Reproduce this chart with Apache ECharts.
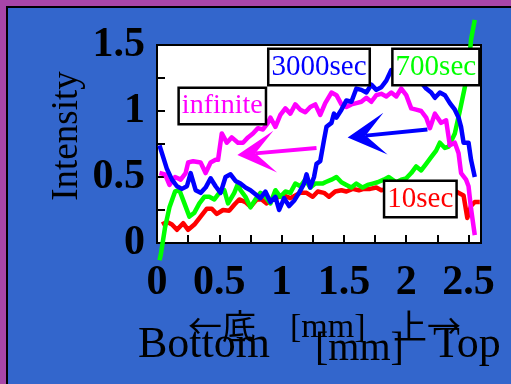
<!DOCTYPE html>
<html>
<head>
<meta charset="utf-8">
<script src="https://cdn.jsdelivr.net/npm/echarts@6/dist/echarts.min.js"></script>
<style>
  html, body { margin: 0; padding: 0; }
  body { width: 511px; height: 384px; background: #a846a8; position: relative; overflow: hidden; }
  #panel { position: absolute; left: 6px; top: 6px; width: 511px; height: 384px;
           background: #3366cc; border-left: 2px solid #000; border-top: 2px solid #000; }
  #chart { position: absolute; left: 0; top: 0; width: 511px; height: 384px; }
</style>
</head>
<body>
<div id="panel"></div>
<div id="chart"></div>
<script>
// Intensity profiles along the sample height (mm) at several times.
const xTickLabels = ['0', '0.5', '1', '1.5', '2', '2.5'];
const yTickLabels = ['0', '0.5', '1', '1.5'];

// 10 sec
const redX = [0.04,0.08,0.12,0.16,0.21,0.25,0.30,0.35,0.40,0.44,0.48,0.53,0.58,0.62,0.66,0.71,0.75,0.80,0.84,0.88,
  0.93,0.98,1.02,1.07,1.11,1.15,1.20,1.25,1.29,1.34,1.38,1.43,1.48,1.52,1.57,1.62,1.66,1.71,1.76,1.80,
  1.85,1.92,2.00,2.08,2.16,2.24,2.32,2.40,2.46,2.49,2.52,2.55,2.59];
const redY = [0.14,0.16,0.14,0.10,0.15,0.10,0.14,0.20,0.26,0.26,0.22,0.25,0.245,0.29,0.33,0.31,0.275,0.33,0.33,0.30,
  0.33,0.35,0.36,0.34,0.36,0.38,0.38,0.35,0.39,0.38,0.35,0.39,0.40,0.39,0.41,0.40,0.41,0.41,0.42,0.40,
  0.41,0.42,0.41,0.42,0.41,0.42,0.41,0.39,0.36,0.19,0.28,0.31,0.31];

// 700 sec
const greenX = [0.02,0.03,0.065,0.10,0.145,0.18,0.22,0.26,0.30,0.34,0.38,0.42,0.46,0.50,0.54,0.57,0.62,0.65,0.67,0.71,
  0.75,0.79,0.83,0.87,0.91,0.95,0.99,1.03,1.07,1.11,1.15,1.19,1.23,1.27,1.33,1.35,1.40,1.44,1.48,1.52,
  1.56,1.60,1.65,1.69,1.73,1.77,1.82,1.86,1.92,1.96,2.00,2.04,2.08,2.12,2.16,2.20,2.24,2.27,2.31,2.34,
  2.36,2.39,2.43,2.47,2.50,2.52,2.55];
const greenY = [-0.13,-0.09,0.12,0.27,0.39,0.40,0.30,0.20,0.23,0.30,0.35,0.35,0.33,0.38,0.40,0.30,0.38,0.45,0.40,0.35,
  0.27,0.33,0.38,0.35,0.30,0.40,0.35,0.39,0.38,0.45,0.43,0.48,0.42,0.45,0.45,0.46,0.48,0.50,0.46,0.44,
  0.42,0.45,0.42,0.44,0.45,0.46,0.48,0.50,0.46,0.48,0.49,0.53,0.58,0.55,0.60,0.65,0.70,0.76,0.72,0.73,
  0.77,0.83,1.00,1.18,1.33,1.54,1.69];

// 3000 sec
const blueX = [0.02,0.08,0.12,0.16,0.20,0.24,0.27,0.31,0.35,0.39,0.43,0.47,0.51,0.55,0.59,0.63,0.67,0.71,0.75,0.79,
  0.83,0.87,0.91,0.95,0.98,1.02,1.06,1.10,1.14,1.18,1.20,1.23,1.26,1.28,1.31,1.34,1.36,1.40,1.42,1.44,
  1.48,1.52,1.56,1.60,1.64,1.68,1.72,1.76,1.80,1.84,1.88,1.96,2.04,2.10,2.16,2.20,2.23,2.27,2.31,2.35,
  2.39,2.42,2.44,2.46,2.50,2.52,2.55];
const blueY = [0.74,0.56,0.48,0.43,0.41,0.43,0.53,0.40,0.38,0.42,0.49,0.43,0.38,0.50,0.52,0.47,0.45,0.42,0.40,0.37,
  0.34,0.39,0.31,0.35,0.25,0.34,0.28,0.32,0.38,0.45,0.52,0.42,0.50,0.60,0.62,0.78,0.88,0.91,0.98,0.95,
  1.01,1.08,1.07,1.17,1.16,1.14,1.20,1.16,1.18,1.23,1.31,1.30,1.28,1.24,1.17,1.14,1.10,1.14,1.12,1.06,
  1.01,0.95,0.88,0.76,0.76,0.63,0.50];

// infinite
const magentaX = [0.02,0.065,0.10,0.145,0.19,0.23,0.25,0.29,0.35,0.39,0.43,0.47,0.49,0.52,0.56,0.60,0.65,0.69,0.73,0.77,
  0.81,0.85,0.89,0.91,0.95,0.99,1.03,1.07,1.11,1.15,1.19,1.23,1.27,1.31,1.35,1.40,1.44,1.48,1.52,1.56,
  1.60,1.64,1.68,1.72,1.76,1.80,1.84,1.88,1.92,1.96,2.00,2.04,2.08,2.12,2.16,2.19,2.23,2.28,2.32,2.35,
  2.39,2.42,2.44,2.48,2.50,2.52,2.55];
const magentaY = [0.53,0.52,0.44,0.50,0.48,0.53,0.61,0.62,0.61,0.53,0.61,0.63,0.63,0.83,0.76,0.80,0.76,0.76,0.80,0.83,
  0.87,0.86,0.91,0.95,0.88,0.97,1.02,0.98,1.05,1.01,0.99,1.03,1.05,0.97,1.06,1.14,1.12,1.05,1.03,1.05,
  1.06,1.07,1.10,1.07,1.12,1.13,1.11,1.14,1.11,1.17,1.12,1.02,1.01,1.00,0.95,0.87,0.98,0.91,0.93,0.74,
  0.76,0.68,0.53,0.48,0.43,0.26,0.06];

// Boxed series captions (data coordinates of the box centre)
const captions = [
  { text: 'infinite', at: [0.524, 1.038], color: '#ff00ff', size: 28 },
  { text: '3000sec', at: [1.30, 1.333], color: '#0000ff', size: 29 },
  { text: '700sec', at: [2.238, 1.333], color: '#00ff00', size: 29 },
  { text: '10sec', at: [2.113, 0.333], color: '#ff0000', size: 29 }
];

// Shift arrows (tail -> head, data coordinates)
const arrows = [
  { from: [1.28, 0.72], to: [0.645, 0.667], color: '#ff00ff' },
  { from: [2.17, 0.86], to: [1.53, 0.80], color: '#0000ff' }
];

const zip = (xs, ys) => xs.map((x, i) => [x, ys[i]]);
const SERIF = '"Liberation Serif", "Times New Roman", serif';
const CJK = '"Noto Sans CJK JP", sans-serif';

function tickText(list, v) {
  const i = Math.round(v / 0.5);
  if (Math.abs(v - i * 0.5) < 1e-6 && i >= 0 && i < list.length) return list[i];
  return '';
}

const chart = echarts.init(document.getElementById('chart'), null, { renderer: 'canvas' });

const labelStyle = { fontFamily: SERIF, fontWeight: 'bold', fontSize: 42, color: '#000',
  textShadowColor: '#000', textShadowOffsetX: 1.5, textShadowOffsetY: 1, textShadowBlur: 0 };

function line(name, data, color, z) {
  return {
    name, type: 'line', data, symbol: 'none', clip: false, z,
    lineStyle: { color, width: 4.5, join: 'round' }
  };
}

chart.setOption({
  backgroundColor: 'transparent',
  animation: false,
  grid: { left: 157, top: 45, right: 30, bottom: 141, show: true,
          backgroundColor: '#fff', borderColor: '#000', borderWidth: 2 },
  xAxis: {
    type: 'value', min: 0, max: 2.6, interval: 0.25,
    axisLine: { show: true, onZero: false, lineStyle: { color: '#000', width: 2 } },
    axisTick: { show: true, inside: true, length: 8, lineStyle: { color: '#000', width: 2 } },
    splitLine: { show: false },
    axisLabel: Object.assign({ margin: 19, showMaxLabel: false,
      formatter: v => tickText(xTickLabels, v) }, labelStyle)
  },
  yAxis: {
    type: 'value', min: 0, max: 1.5, interval: 0.25,
    axisLine: { show: true, onZero: false, lineStyle: { color: '#000', width: 2 } },
    axisTick: { show: true, inside: true, length: 8, lineStyle: { color: '#000', width: 2 } },
    splitLine: { show: false },
    axisLabel: Object.assign({ margin: 12,
      formatter: v => tickText(yTickLabels, v) }, labelStyle)
  },
  series: [
    line('10sec', zip(redX, redY), '#ff0000', 2),
    line('700sec', zip(greenX, greenY), '#00ff00', 3),
    line('infinite', zip(magentaX, magentaY), '#ff00ff', 4),
    line('3000sec', zip(blueX, blueY), '#0000ff', 5)
  ]
});

const toPx = p => chart.convertToPixel({ gridIndex: 0 }, p);

const graphics = [];
function title(text, x, y, size, family, rotation) {
  graphics.push({ type: 'text', x, y, rotation: rotation || 0, z: 20,
    style: { text, fontSize: size, fontFamily: family, fill: '#000',
      align: rotation ? 'center' : 'left', verticalAlign: 'middle' } });
}

// axis titles
title('Intensity', 67, 136, 37, SERIF, Math.PI / 2);
title('Bottom', 138, 345, 44, SERIF);
title('[mm]', 315, 349, 40, SERIF);
title('Top', 433, 345, 44, SERIF);
title('←底', 188, 326, 34, CJK);
title('[mm]', 290, 328, 34, SERIF);
title('上→', 393, 326, 34, CJK);

// arrows
arrows.forEach(a => {
  const p1 = toPx(a.from), p2 = toPx(a.to);
  const dx = p2[0] - p1[0], dy = p2[1] - p1[1];
  const len = Math.hypot(dx, dy), ux = dx / len, uy = dy / len;
  const nx = -uy, ny = ux;
  const L = 38, W = 21, N = 18;
  const notch = [p2[0] - ux * N, p2[1] - uy * N];
  graphics.push({ type: 'line', z: 30,
    shape: { x1: p1[0], y1: p1[1], x2: notch[0], y2: notch[1] },
    style: { stroke: a.color, lineWidth: 4 } });
  graphics.push({ type: 'polygon', z: 30,
    shape: { points: [p2,
      [p2[0] - ux * L + nx * W, p2[1] - uy * L + ny * W],
      notch,
      [p2[0] - ux * L - nx * W, p2[1] - uy * L - ny * W]] },
    style: { fill: a.color } });
});

// caption boxes
captions.forEach(c => {
  const p = toPx(c.at);
  graphics.push({ type: 'text', x: p[0], y: p[1], z: 40,
    style: { text: c.text, fontSize: c.size, fontFamily: SERIF, fill: c.color,
      align: 'center', verticalAlign: 'middle', lineHeight: 32,
      backgroundColor: '#fff', borderColor: '#000', borderWidth: 2.5, padding: [1, 2, 1, 2] } });
});

chart.setOption({ graphic: graphics });
</script>
</body>
</html>
